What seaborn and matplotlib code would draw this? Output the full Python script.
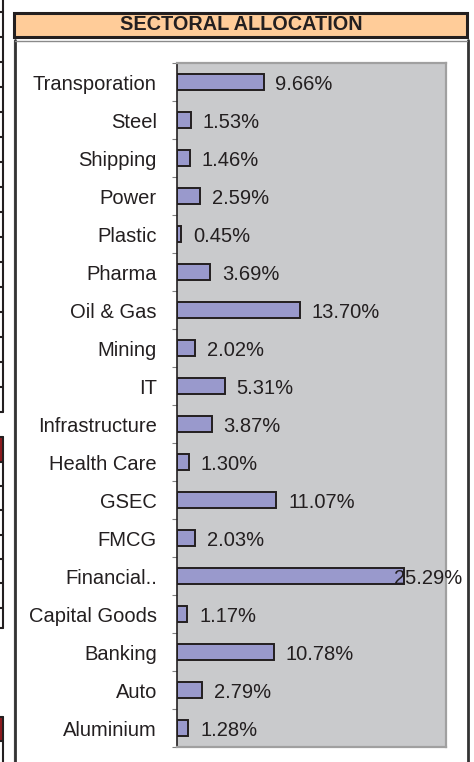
import matplotlib
matplotlib.use("Agg")
import matplotlib.pyplot as plt
from matplotlib.patches import Rectangle
from matplotlib.lines import Line2D
from matplotlib.ticker import FixedLocator
import seaborn as sns

# Sector weights (%), listed top to bottom
sectors = ["Transporation", "Steel", "Shipping", "Power", "Plastic", "Pharma",
           "Oil & Gas", "Mining", "IT", "Infrastructure", "Health Care", "GSEC",
           "FMCG", "Financial..", "Capital Goods", "Banking", "Auto", "Aluminium"]
weights = [9.66, 1.53, 1.46, 2.59, 0.45, 3.69, 13.70, 2.02, 5.31, 3.87, 1.30,
           11.07, 2.03, 25.29, 1.17, 10.78, 2.79, 1.28]
value_labels = [f"{w:.2f}%" for w in weights]
title = "SECTORAL ALLOCATION"

W, H = 474, 762
INK = "#231f20"
BAR = "#9999cc"
PANEL = "#c9cacc"
FS = 14.5

sns.set_theme(style="white")
plt.rcParams["font.family"] = ["Liberation Sans", "DejaVu Sans"]

fig = plt.figure(figsize=(W / 100, H / 100), dpi=100)
fig.patch.set_facecolor("white")


def fx(x):
    return x / W


def fy(y):
    return 1 - y / H


def hline(x0, x1, y, color=INK, lw=1.5):
    fig.add_artist(Line2D([fx(x0), fx(x1)], [fy(y), fy(y)], color=color,
                          lw=lw, transform=fig.transFigure))


def vline(x, y0, y1, color=INK, lw=1.5):
    fig.add_artist(Line2D([fx(x), fx(x)], [fy(y0), fy(y1)], color=color,
                          lw=lw, transform=fig.transFigure))


# Neighbouring table edge on the left
for y0, y1 in [(437, 462), (717, 741)]:
    fig.add_artist(Rectangle((fx(0), fy(y1)), fx(3), fy(y0) - fy(y1),
                             facecolor="#8e1a1e", edgecolor="none",
                             transform=fig.transFigure))
vline(3, 0, 412)
vline(3, 437, 628)
vline(3, 717, 762)
for y in [12.3 + 25 * i for i in range(17)]:
    hline(0, 3, y)
for y in [437, 462, 486, 510, 535, 559, 583, 608, 628, 717, 741]:
    hline(0, 3, y)

# Chart frame
vline(13.5, 40, 762, color="#b0b0b0", lw=1)
vline(15, 40, 762, color="#333333", lw=2)
vline(467.5, 40, 762, color="#333333", lw=2)
hline(15, 467, 40.5, color="#8a8a8a", lw=1)

# Title bar
fig.add_artist(Rectangle((fx(14), fy(37)), fx(467) - fx(14), fy(13) - fy(37),
                         facecolor="#ffcc99", edgecolor=INK, lw=2.2,
                         transform=fig.transFigure))
fig.text(fx(241), fy(25), title, ha="center", va="center",
         fontsize=14.3, fontweight="bold", color=INK)

# Plot area
ax = fig.add_axes([fx(177), fy(747), fx(446) - fx(177), fy(63) - fy(747)])
ax.set_facecolor(PANEL)

sns.barplot(x=weights, y=sectors, orient="h", color=BAR, edgecolor=INK,
            linewidth=1.4, width=0.42, saturation=1, ax=ax)

ax.set_xlim(0, 30)
ax.set_ylim(len(sectors) - 0.5, -0.5)
ax.set_xticks([])
ax.set_xlabel("")
ax.set_ylabel("")

for side in ["top", "right", "bottom"]:
    ax.spines[side].set_color("#a0a0a0")
    ax.spines[side].set_linewidth(1.6)
ax.spines["left"].set_color(INK)
ax.spines["left"].set_linewidth(1.2)

ax.tick_params(axis="y", which="major", length=0, pad=14.5,
               labelsize=FS, labelcolor=INK)
ax.yaxis.set_minor_locator(FixedLocator([i - 0.5 for i in range(len(sectors) + 1)]))
ax.tick_params(axis="y", which="minor", left=True, length=3.6, width=0.8,
               color="#808080", direction="out")

# Value labels beside each bar
for i, (w, lab) in enumerate(zip(weights, value_labels)):
    if w > 0.8 * ax.get_xlim()[1]:
        ax.annotate(lab, xy=(1.06, i), xycoords=ax.get_yaxis_transform(),
                    xytext=(0, -2), textcoords="offset points",
                    ha="right", va="center", fontsize=FS, color=INK,
                    annotation_clip=False)
    else:
        ax.annotate(lab, xy=(w, i), xytext=(8.5, -2), textcoords="offset points",
                    ha="left", va="center", fontsize=FS, color=INK)

fig.savefig("out.png", dpi=100, facecolor="white")
